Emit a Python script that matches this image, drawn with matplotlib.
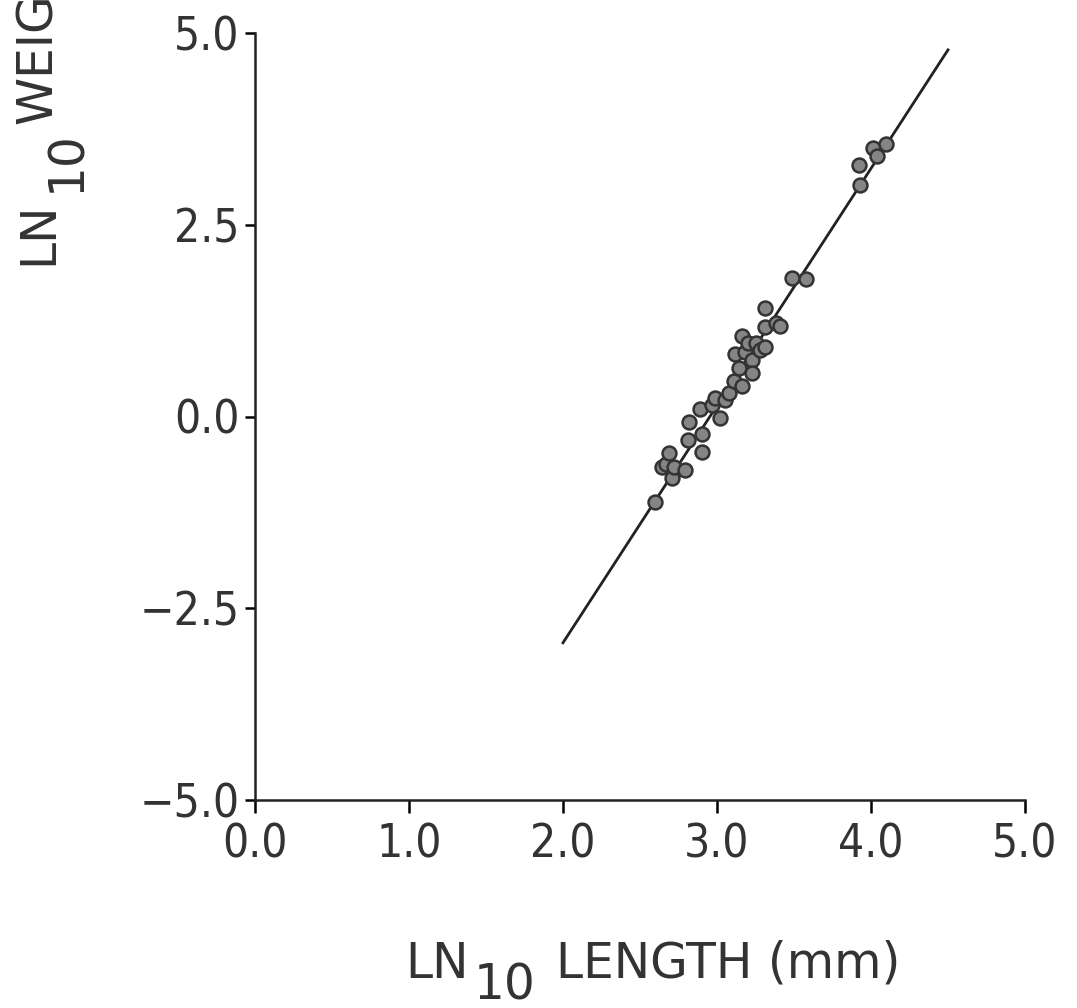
import matplotlib
matplotlib.use("Agg")
import matplotlib.pyplot as plt

# ln10 length (mm) vs ln10 weight
length = [2.60, 2.64, 2.67, 2.69, 2.71, 2.72, 2.79, 2.81, 2.82, 2.90, 2.90, 2.89,
          2.97, 2.99, 3.02, 3.05, 3.08, 3.11, 3.14, 3.12, 3.16, 3.18, 3.20, 3.23,
          3.16, 3.25, 3.28, 3.23, 3.31, 3.31, 3.38, 3.41, 3.31, 3.49, 3.58,
          3.92, 3.93, 4.01, 4.04, 4.10]
weight = [-1.11, -0.66, -0.62, -0.48, -0.80, -0.66, -0.70, -0.31, -0.07, -0.46, -0.23, 0.10,
          0.15, 0.24, -0.02, 0.21, 0.31, 0.46, 0.63, 0.81, 1.05, 0.84, 0.96, 0.74,
          0.40, 0.96, 0.87, 0.57, 0.91, 1.17, 1.22, 1.18, 1.41, 1.81, 1.79,
          3.28, 3.02, 3.50, 3.40, 3.55]
fit_x = [2.0, 4.5]
fit_y = [-2.95, 4.78]

xticks = [0, 1, 2, 3, 4, 5]
xticklabels = ["0.0", "1.0", "2.0", "3.0", "4.0", "5.0"]
yticks = [-5, -2.5, 0, 2.5, 5]
yticklabels = ["\u22125.0", "\u22122.5", "0.0", "2.5", "5.0"]

W, H = 1077, 1008
ink = "#333333"

fig = plt.figure(figsize=(W / 100, H / 100), dpi=100)
ax = fig.add_axes([255 / W, 1 - 800 / H, 770 / W, 767 / H])

ax.plot(fit_x, fit_y, color="#222222", lw=2)
ax.plot(length, weight, "o", ms=10, mfc="#858585", mec="#333333", mew=1.8)

ax.set_xlim(0, 5)
ax.set_ylim(-5, 5)
for s in ["top", "right"]:
    ax.spines[s].set_visible(False)
for s in ["left", "bottom"]:
    ax.spines[s].set_linewidth(1.8)
    ax.spines[s].set_color("#222222")

tick_font = dict(family="DejaVu Sans", fontstretch="condensed", fontsize=33, color=ink)
ax.set_xticks(xticks)
ax.set_xticklabels(xticklabels, **tick_font)
ax.set_yticks(yticks)
ax.set_yticklabels(yticklabels, **tick_font)
ax.tick_params(axis="x", direction="out", length=9, width=1.8, pad=7)
ax.tick_params(axis="y", direction="out", length=7, width=1.8, pad=4)

lab_font = dict(family="DejaVu Sans", fontsize=35, color=ink)

# x label: LN, lowered "10", LENGTH (mm)
fig.text(405 / W, 1 - 978 / H, "LN", ha="left", va="baseline", **lab_font)
fig.text(474 / W, 1 - 999 / H, "10", ha="left", va="baseline", **lab_font)
fig.text(556 / W, 1 - 978 / H, "LENGTH (mm)", ha="left", va="baseline", **lab_font)

# y label, rotated, runs off the top edge as in the scan
fig.text(52 / W, 1 - 265 / H, "LN", rotation=90, rotation_mode="anchor",
         ha="left", va="baseline", **lab_font)
fig.text(80 / W, 1 - 192 / H, "10", rotation=90, rotation_mode="anchor",
         ha="left", va="baseline", **lab_font)
fig.text(52 / W, 1 - 124 / H, "WEIGHT", rotation=90, rotation_mode="anchor",
         ha="left", va="baseline", **lab_font)

fig.savefig("out.png", dpi=100)
